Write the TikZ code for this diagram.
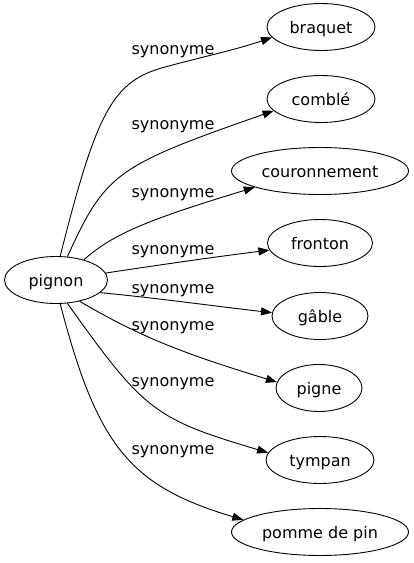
\documentclass[tikz,border=0pt]{standalone}
\usepackage{fontspec}
\setmainfont{DejaVu Sans}
\usetikzlibrary{shapes.geometric,arrows.meta}
\begin{document}
\begin{tikzpicture}[x=1pt,y=-1pt,
  wnode/.style={ellipse,draw,line width=0.9pt,inner sep=0pt,minimum height=47pt,
    font=\fontsize{16}{19}\selectfont,text height=14pt,text depth=2pt},
  lbl/.style={font=\fontsize{16}{19}\selectfont,text height=14pt,text depth=2pt,inner sep=0pt},
  syn/.style={draw,line width=0.9pt,-{Triangle[length=11pt,width=8pt]}}]
\useasboundingbox (0,0) rectangle (413,563);
\node[wnode,minimum width=103pt] (pignon) at (56,280) {pignon};
\node[wnode,minimum width=108pt] (braquet) at (321,27) {braquet};
\node[wnode,minimum width=108pt] (comble) at (321,99) {comblé};
\node[wnode,minimum width=177pt] (couronnement) at (320,171) {couronnement};
\node[wnode,minimum width=105pt] (fronton) at (320,243) {fronton};
\node[wnode,minimum width=96pt] (gable) at (320,316) {gâble};
\node[wnode,minimum width=86pt] (pigne) at (319,388) {pigne};
\node[wnode,minimum width=108pt] (tympan) at (320,460) {tympan};
\node[wnode,minimum width=177pt] (pomme) at (320,532) {pomme de pin};
\coordinate (j1) at (165,67);
\draw[syn] (pignon.80) .. controls (97,110) and (113,81) .. (j1) .. controls (200,57.5) and (235,50) .. (braquet.192);
\draw[syn] (pignon.64) .. controls (105.6,173) and (115.6,166) .. (comble.194);
\draw[syn] (pignon.36) .. controls (113,234) and (147,220) .. (couronnement.194);
\draw[syn] (pignon.8) .. controls (159,265) and (214,257) .. (fronton.188);
\draw[syn] (pignon.344) .. controls (157,298) and (213,306) .. (gable.176);
\draw[syn] (pignon.318) .. controls (139,336) and (178.5,352) .. (pigne.172);
\draw[syn] (pignon.296) .. controls (144.4,411.4) and (154.5,418.9) .. (tympan.172);
\draw[syn] (pignon.280) .. controls (97.5,447) and (130.4,486) .. (pomme.171);
\node[lbl] (l1) at (173,48) {synonyme};
\node[lbl] (l2) at (173,123) {synonyme};
\node[lbl] (l3) at (173,191) {synonyme};
\node[lbl] (l4) at (173,248) {synonyme};
\node[lbl] (l5) at (173,287) {synonyme};
\node[lbl] (l6) at (173,324) {synonyme};
\node[lbl] (l7) at (173,380) {synonyme};
\node[lbl] (l8) at (173,448) {synonyme};
\end{tikzpicture}
\end{document}
